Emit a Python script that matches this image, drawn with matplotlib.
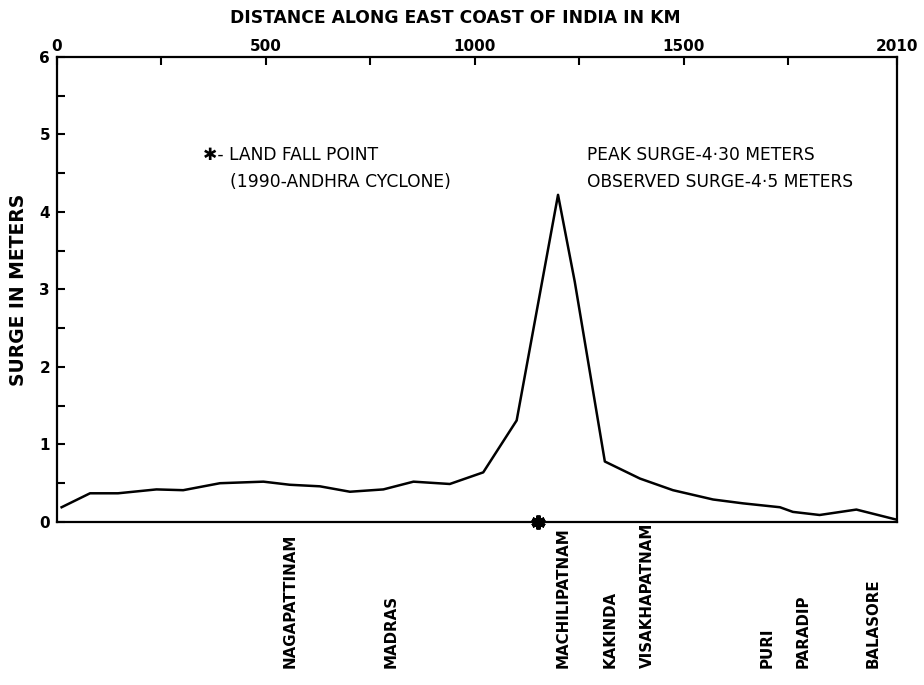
"""
Storm surge along the east coast of India - 1990 Andhra cyclone
"""
import matplotlib
matplotlib.use('Agg')
import matplotlib.pyplot as plt
import matplotlib.transforms as mtransforms

plt.rcParams['font.family'] = 'DejaVu Sans'
plt.rcParams['font.size'] = 11

# Surge profile (km along coast, metres)
distance_km = [11, 79, 146, 238, 302, 390, 494, 557, 629, 701, 781, 853, 940,
               1020, 1100, 1199, 1239, 1311, 1395, 1474, 1570, 1642, 1730,
               1761, 1825, 1913, 2009]
surge_m = [0.19, 0.37, 0.37, 0.42, 0.41, 0.50, 0.52, 0.48, 0.46, 0.39, 0.42,
           0.52, 0.49, 0.64, 1.31, 4.22, 3.10, 0.78, 0.56, 0.41, 0.29, 0.24,
           0.19, 0.13, 0.09, 0.16, 0.03]

# Stations along the coast
station_names = ['NAGAPATTINAM', 'MADRAS', 'MACHILIPATNAM', 'KAKINDA',
                 'VISAKHAPATNAM', 'PURI', 'PARADIP', 'BALASORE']
station_km = [558, 800, 1211, 1323, 1414, 1699, 1785, 1953]

landfall_km = [1151]
landfall_y = [0]

top_ticks = [0, 500, 1000, 1500, 2010]
top_minor = [250, 750, 1250, 1750]


def main():
    fig = plt.figure(figsize=(9.24, 6.85), dpi=100)
    ax = fig.add_axes([0.0617, 0.238, 0.909, 0.679])

    ax.plot(distance_km, surge_m, color='black', linewidth=1.8)

    # Land fall point on the coast
    ax.plot(landfall_km, landfall_y, marker=(6, 2, 0), markersize=10,
            markeredgewidth=3, color='black', clip_on=False, zorder=5)

    ax.set_xlim(0, 2010)
    ax.set_ylim(0, 6)

    # Distance axis on top
    ax.xaxis.tick_top()
    ax.set_xticks(top_ticks)
    ax.set_xticklabels([str(t) for t in top_ticks], fontweight='bold')
    ax.set_xticks(top_minor, minor=True)
    ax.tick_params(axis='x', which='both', direction='in', length=6,
                   width=1.5, pad=2, bottom=False, top=True)

    ax.set_yticks(range(0, 7))
    ax.set_yticklabels([str(v) for v in range(0, 7)], fontweight='bold')
    ax.set_yticks([v + 0.5 for v in range(0, 6)], minor=True)
    ax.tick_params(axis='y', which='both', direction='in', length=6,
                   width=1.5, pad=5, right=False)

    for side in ['left', 'bottom', 'top', 'right']:
        ax.spines[side].set_linewidth(1.6)

    ax.set_ylabel('SURGE IN METERS', fontweight='bold', fontsize=13.5,
                  labelpad=8)
    fig.text(455 / 924, 1 - 18 / 685,
             'DISTANCE ALONG EAST COAST OF INDIA IN KM',
             ha='center', va='center', fontweight='bold', fontsize=12.3)

    # Annotations
    note_size = 12.3
    ax.text(349, 4.74, '\u2731- LAND FALL POINT', ha='left', va='center',
            fontsize=note_size)
    ax.text(414, 4.39, '(1990-ANDHRA CYCLONE)', ha='left', va='center',
            fontsize=note_size)
    ax.text(1268, 4.74, 'PEAK SURGE-4\u00b730 METERS', ha='left',
            va='center', fontsize=note_size)
    ax.text(1268, 4.39, 'OBSERVED SURGE-4\u00b75 METERS', ha='left',
            va='center', fontsize=note_size)

    # Station names below the axis
    trans = mtransforms.blended_transform_factory(ax.transData, ax.transAxes)
    for name, km in zip(station_names, station_km):
        ax.text(km, -0.315, name, rotation=90, ha='center', va='bottom',
                transform=trans, fontweight='bold', fontsize=10.8)

    fig.savefig('out.png', dpi=100)
    plt.close(fig)


if __name__ == '__main__':
    main()
